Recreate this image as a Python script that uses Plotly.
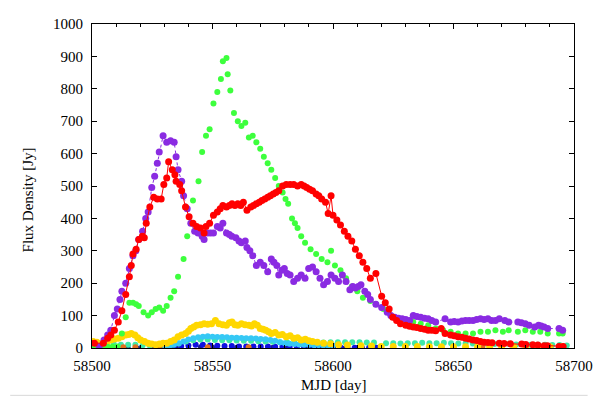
import plotly.graph_objects as go

# ---------------- data ----------------
purple_x = [58503, 58505, 58506.5, 58507.8, 58509.3, 58510.5, 58511.6, 58512.4, 58514, 58515.5, 58517, 58518.2,
            58519.4, 58521, 58522.3, 58523.3, 58524.8, 58526, 58527.1, 58527.9, 58529.5, 58531, 58532.6, 58534.1,
            58534.9, 58535.7, 58537.2, 58538, 58539.5, 58541, 58542.6, 58544, 58545.7, 58546.5, 58548, 58549.2,
            58550.4, 58552, 58553.2, 58554.3, 58555.8, 58557, 58558, 58559.7, 58561, 58562, 58563.6, 58564.3,
            58565.5, 58566.7, 58568.2, 58569.8, 58571.3, 58572.9, 58574.4, 58575.5, 58576.7, 58577.5, 58578.8,
            58579.8, 58581, 58582.2, 58583.7, 58585.3, 58586.8, 58588.4, 58589.9, 58591.5, 58593, 58594.6, 58596.1,
            58597.7, 58599.2, 58600.8, 58602.3, 58603.9, 58605.4, 58607, 58608.2, 58609.3, 58610.5, 58611.6, 58613.2,
            58614.4, 58615.5, 58617.8, 58620.2, 58622.5, 58624, 58625.6, 58627.2, 58628.7, 58630.2, 58631.8, 58633.3,
            58634.8, 58636.4, 58638, 58639.5, 58641, 58642.6, 58646.5, 58648.8, 58650.3, 58651.9, 58653.5, 58655,
            58656.5, 58658.1, 58659.6, 58661.2, 58662.7, 58664.3, 58665.8, 58667.4, 58669, 58671.3, 58672.9,
            58676.7, 58678.2, 58679.8, 58681.4, 58683.7, 58685.3, 58686.4, 58687.6, 58689.1, 58693.8, 58695.3]
purple_y = [5, 25, 40, 55, 100, 120, 150, 175, 200, 245, 285, 300,
            335, 360, 400, 420, 495, 530, 570, 605, 655, 635, 640, 635,
            590, 550, 515, 470, 430, 385, 360, 355, 345, 335, 355, 355,
            355, 375, 370, 385, 355, 350, 345, 340, 330, 325, 330, 310,
            300, 285, 255, 265, 255, 235, 275, 265, 255, 225, 240,
            245, 230, 225, 205, 215, 225, 215, 245, 250, 235, 215, 195,
            205, 225, 215, 205, 225, 205, 180, 190, 185, 190, 195, 175,
            165, 150, 135, 125, 110, 100, 95, 92, 90, 88, 85, 100,
            97, 95, 92, 90, 85, 80, 90, 80, 82, 80, 83, 85,
            85, 85, 88, 90, 88, 90, 85, 85, 90, 85, 80,
            80, 78, 75, 70, 65, 70, 68, 65, 60, 60, 55]

red_x = [58501, 58504.7, 58506.5, 58507.8, 58509.3, 58510.9, 58512.4, 58514, 58515.5, 58516.3, 58517, 58518.3,
         58519.4, 58520.9, 58521.7, 58522.5, 58524, 58525.6, 58527.1, 58528.7, 58529.8, 58531, 58531.8, 58533.3,
         58534.4, 58534.9, 58536.4, 58537.2, 58538.8, 58540.3, 58541.9, 58543.4, 58545, 58546.5, 58547.3, 58548.8,
         58550.4, 58552, 58553.2, 58554.3, 58555.8, 58557, 58558.1, 58559.3, 58560.5, 58561.7, 58562.8, 58564.3,
         58565.9, 58567, 58568.2, 58569.4, 58570.5, 58571.7, 58572.9, 58574, 58575.2, 58576.3, 58577.5, 58579.1,
         58580.6, 58582.2, 58583.7, 58585.3, 58586.8, 58588, 58589.1, 58590.3, 58591.5, 58593, 58594.1, 58595.3,
         58596.9, 58598, 58599.2, 58600, 58601.6, 58603.1, 58604.7, 58606.2, 58607.8, 58609.3, 58610.9, 58612.4,
         58614, 58615.5, 58617.8, 58620.2, 58621.7, 58623.3, 58624.8, 58626.4, 58628, 58630.2, 58631.8, 58633.3,
         58634.8, 58636.4, 58638, 58639.5, 58641, 58642.6, 58644.9, 58646.5, 58648.8, 58650.3, 58651.9, 58653.5,
         58655, 58656.5, 58658.1, 58659.6, 58661.2, 58662.7, 58664.3, 58666, 58669, 58671, 58673.6, 58678.3,
         58680, 58682.9, 58685, 58687.6, 58689, 58693.8, 58695.5]
red_y = [15, 15, 30, 40, 55, 80, 115, 165, 220, 255, 290, 305,
         335, 345, 340, 385, 435, 465, 460, 460, 505, 525, 575, 550,
         535, 515, 505, 485, 435, 405, 385, 375, 370, 355, 375, 385,
         410, 420, 430, 440, 435, 440, 445, 440, 445, 440, 450, 425,
         435, 440, 445, 450, 455, 460, 465, 470, 475, 480, 485, 500,
         505, 505, 505, 500, 505, 500, 495, 490, 485, 475, 470, 460,
         450, 415, 470, 410, 395, 380, 360, 345, 330, 305, 285, 265,
         245, 215, 230, 160, 140, 120, 95, 85, 75, 70, 67, 65,
         63, 60, 58, 55, 55, 53, 60, 45, 40, 38, 35, 33,
         30, 28, 25, 23, 20, 18, 17, 16, 15, 14, 13, 12,
         11, 10, 9, 7, 7, 5, 5]

green_x = [58500.5, 58502.5, 58504.5, 58506.5, 58508.5, 58510.5, 58512.4, 58514, 58515.5, 58517, 58518.3, 58519.4,
           58521.4, 58523.3, 58524.8, 58526.4, 58527.9, 58529.5, 58531, 58532.6, 58534.1, 58535.7, 58538, 58539.5,
           58541.9, 58544.2, 58545.7, 58547.3, 58548.8, 58550.4, 58552, 58553.5, 58554.3, 58555.8, 58556.3, 58557.4,
           58558.9, 58560.5, 58562, 58563.6, 58565.1, 58566.7, 58568.2, 58569.8, 58571.3, 58572.9, 58574.4, 58576,
           58577.5, 58579.1, 58580.3, 58581.4, 58583, 58584.2, 58585.3, 58586.8, 58588.4, 58590.7, 58593, 58595.3,
           58597.7, 58599.2, 58600.8, 58603.1, 58605.4, 58607.8, 58610.1, 58612.4, 58615.5, 58617.8, 58620.9,
           58624, 58627.1, 58630.2, 58633.3, 58636.4, 58639.5, 58642.6, 58645.7, 58648.8, 58651.9, 58655, 58658.1,
           58661.2, 58664.3, 58667.4, 58670.5, 58672.9, 58676.7, 58679.8, 58682.9, 58686, 58689.1, 58693.8, 58695.3]
green_y = [6, 5, 5, 4, 4, 5, 45, 95, 140, 140, 135, 130,
           110, 100, 110, 120, 125, 115, 130, 155, 175, 220, 275, 345,
           455, 515, 605, 655, 675, 755, 790, 830, 885, 895, 845, 795,
           725, 700, 685, 695, 650, 655, 635, 615, 590, 570, 550, 525,
           500, 480, 460, 445, 400, 385, 370, 345, 325, 305, 290, 275,
           265, 300, 255, 240, 215, 190, 175, 155, 145, 135, 120,
           100, 90, 85, 80, 75, 70, 60, 55, 50, 45, 45, 45,
           50, 50, 55, 50, 55, 50, 55, 50, 50, 45, 45, 45]

yellow_x = [58500.5, 58502, 58504.7, 58506.3, 58507.8, 58509.3, 58510.9, 58512.4, 58514, 58515.2, 58516.3, 58517.8,
            58519, 58520.2, 58521.8, 58523.3, 58524.8, 58526.4, 58528, 58529.5, 58531, 58532.6, 58534.1, 58535.7,
            58537.2, 58538.8, 58540, 58541, 58542.2, 58543.4, 58545, 58546.5, 58548, 58549.6, 58551.2, 58552.7,
            58554.3, 58555.8, 58557, 58558.1, 58559.3, 58560.5, 58562, 58563.5, 58565.1, 58566.2, 58567.4, 58568.6,
            58569.8, 58571, 58572.1, 58573.3, 58574.4, 58576, 58577.5, 58579, 58580.6, 58582.2, 58583.7, 58585.3,
            58586.8, 58588.5, 58590, 58591.5, 58593.5, 58596.1, 58599, 58602.3, 58606, 58611.6, 58616, 58620,
            58625, 58630, 58635, 58640, 58645, 58650, 58655, 58660, 58665, 58670, 58675, 58680, 58685, 58690, 58695]
yellow_y = [20, 18, 15, 20, 25, 28, 30, 35, 40, 42, 45, 40,
            32, 25, 20, 15, 12, 10, 12, 15, 15, 20, 25, 35,
            40, 45, 52, 60, 65, 70, 72, 75, 73, 75, 85, 75,
            72, 70, 78, 80, 72, 70, 75, 72, 70, 68, 75, 70,
            60, 58, 55, 50, 45, 48, 40, 42, 35, 38, 30, 32,
            25, 27, 22, 20, 18, 15, 13, 10, 9, 7, 6, 5,
            5, 5, 5, 4, 4, 4, 4, 4, 4, 4, 4, 4, 4, 4, 4]

cyan_x = [58530, 58532, 58534, 58536, 58538, 58540, 58542, 58544, 58546, 58548, 58550, 58552,
          58554, 58556, 58558, 58560, 58562, 58564, 58566, 58568, 58570, 58572, 58574, 58576,
          58578, 58580, 58582, 58584, 58586, 58588, 58590, 58592, 58594, 58596, 58598, 58600]
cyan_y = [3, 6, 10, 15, 20, 26, 30, 33, 35, 36, 35, 34,
          34, 33, 32, 32, 31, 30, 30, 29, 28, 27, 25, 22,
          18, 15, 13, 12, 11, 10, 10, 9, 9, 8, 8, 8]

aqua_x = [58500, 58503, 58506, 58509, 58512, 58515, 58518, 58521, 58524, 58527, 58530, 58533,
          58536, 58539, 58542, 58545, 58548, 58551, 58554, 58557, 58560, 58563, 58566, 58569,
          58572, 58575, 58578, 58581, 58584, 58587, 58590, 58593, 58596, 58599, 58602, 58605,
          58608, 58611, 58614, 58617, 58622, 58625, 58628, 58631, 58634, 58637, 58640, 58643,
          58646, 58649, 58652, 58655, 58658, 58661, 58664, 58667, 58670, 58673, 58676, 58679,
          58682, 58685, 58688, 58691, 58694, 58697]
aqua_y = [10, 10, 12, 12, 10, 10, 10, 8, 7, 7, 8, 10,
          14, 20, 24, 26, 26, 25, 24, 24, 23, 22, 22, 21,
          20, 19, 18, 17, 16, 16, 16, 17, 17, 18, 18, 18,
          18, 18, 17, 17, 15, 15, 14, 15, 15, 16, 15, 15,
          16, 15, 14, 14, 14, 13, 13, 12, 12, 12, 11, 11,
          10, 10, 10, 9, 9, 8]

blue_x = [58525, 58528, 58531, 58534, 58537, 58540, 58543, 58546, 58549, 58552, 58555, 58558,
          58561, 58564, 58567, 58570, 58573, 58576, 58579, 58582, 58585, 58588, 58591, 58594,
          58597, 58600, 58603, 58606, 58609, 58612, 58615, 58618]
blue_y = [2, 3, 4, 5, 6, 8, 10, 10, 8, 7, 6, 6,
          5, 5, 5, 5, 5, 4, 4, 4, 3, 3, 3, 2,
          2, 2, 2, 1, 1, 1, 1, 1]

navy_x = [58505, 58510, 58515, 58520, 58525, 58530, 58535, 58540, 58545, 58550, 58555, 58560,
          58565, 58570, 58575, 58580, 58585, 58590, 58595, 58600, 58605, 58610, 58615, 58620]
navy_y = [1, 1, 1, 1, 2, 2, 3, 3, 4, 3, 3, 2,
          2, 2, 2, 2, 1, 1, 1, 1, 1, 1, 1, 1]

orange_x = [58501, 58503, 58513, 58518, 58528, 58548, 58565, 58662]
orange_y = [18, 15, 2, 2, 2, 2, 2, 4]

# ---------------- figure ----------------
FONT = "Liberation Serif, Times New Roman, serif"

fig = go.Figure()

def add_markers(x, y, color, size, line=None):
    if line is None:
        fig.add_trace(go.Scatter(x=x, y=y, mode="markers",
                                 marker=dict(color=color, size=size, line=dict(width=0)),
                                 showlegend=False))
    else:
        fig.add_trace(go.Scatter(x=x, y=y, mode="lines+markers",
                                 marker=dict(color=color, size=size, line=dict(width=0)),
                                 line=line, showlegend=False))

add_markers(navy_x, navy_y, "#1a1a8c", 5)
add_markers(blue_x, blue_y, "#1010e0", 6)
add_markers(aqua_x, aqua_y, "#3fe8a8", 6)
add_markers(cyan_x, cyan_y, "#35c8f5", 6)
add_markers(orange_x, orange_y, "#e07020", 6)
add_markers(yellow_x, yellow_y, "#ffd700", 7)
add_markers(green_x, green_y, "#3dff3d", 6)
add_markers(purple_x, purple_y, "#8a2be2", 7, line=dict(color="#8a2be2", width=1, dash="dot"))
add_markers(red_x, red_y, "#ff0000", 7, line=dict(color="#ff0000", width=1))

# The page body has an 8px default margin; compensate so the plot lands where the reference has it.
OFF = 8
PAGE_W, PAGE_H = 601, 399
W, H = PAGE_W - OFF, PAGE_H - OFF
PLOT_L, PLOT_R, PLOT_T, PLOT_B = 92, 587, 16, 348   # page pixels of the plot frame
L, T = PLOT_L - OFF, PLOT_T - OFF
R, B = W - (PLOT_R - OFF), H - (PLOT_B - OFF)
pw, ph = PLOT_R - PLOT_L, PLOT_B - PLOT_T

def px(xp):
    return (xp - PLOT_L) / pw

def py(yp):
    return (PLOT_B - yp) / ph

axis_common = dict(
    showline=True, linecolor="black", linewidth=1, mirror="ticks",
    ticks="inside", ticklen=5, tickcolor="black", tickwidth=1,
    showgrid=False, zeroline=False,
    tickfont=dict(family=FONT, size=15, color="black"),
    ticklabeloverflow="allow",
)

fig.update_xaxes(range=[58500, 58700], dtick=50, tick0=58500, tickformat="d",
                 ticklabelstandoff=4,
                 minor=dict(dtick=10, ticks="inside", ticklen=3, tickcolor="black", showgrid=False),
                 **axis_common)
fig.update_yaxes(range=[0, 1000], dtick=100, tick0=0, tickformat="d",
                 ticklabelstandoff=5, **axis_common)

fig.update_layout(
    width=W, height=H,
    margin=dict(l=L, r=R, t=T, b=B, pad=0),
    paper_bgcolor="white", plot_bgcolor="white",
    font=dict(family=FONT, size=15, color="black"),
    annotations=[
        dict(text="Flux Density [Jy]", textangle=-90, xref="paper", yref="paper",
             x=px(26), y=py(196), showarrow=False,
             xanchor="center", yanchor="middle", font=dict(family=FONT, size=15, color="black")),
        dict(text="MJD [day]", xref="paper", yref="paper",
             x=0.5, y=py(386), showarrow=False,
             xanchor="center", yanchor="middle", font=dict(family=FONT, size=15, color="black")),
    ],
    shapes=[
        dict(type="line", xref="paper", yref="paper", x0=px(OFF), x1=px(PAGE_W),
             y0=py(396.5), y1=py(396.5), line=dict(color="#d8d8d8", width=1)),
    ],
)

fig.write_html("out.html")
